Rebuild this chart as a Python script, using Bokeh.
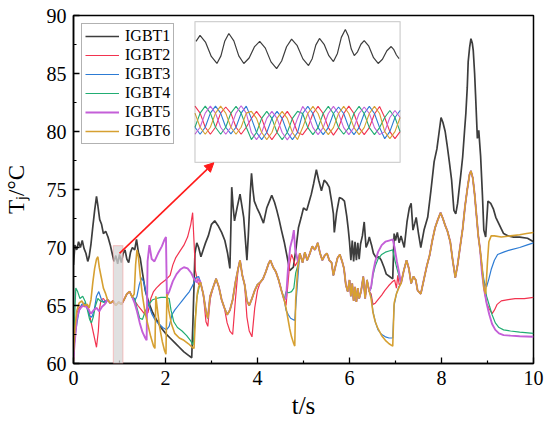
import math
from bokeh.plotting import figure
from bokeh.models import (Range1d, FixedTicker, Legend, LegendItem,
                          BoxAnnotation, Arrow, NormalHead)
from bokeh.embed import file_html
from bokeh.resources import INLINE

# ---------------- data ----------------
series_names = ["IGBT1", "IGBT2", "IGBT3", "IGBT4", "IGBT5", "IGBT6"]
x_ticks = [0, 2, 4, 6, 8, 10]
x_minor = [1, 3, 5, 7, 9]
y_ticks = [60, 65, 70, 75, 80, 85, 90]
y_minor = [62.5, 67.5, 72.5, 77.5, 82.5, 87.5]
x_title = "t/s"
y_title = "T\u2c7c/°C"

igbt1_t = [
    0.00, 0.03, 0.07, 0.11, 0.15, 0.19, 0.23, 0.27, 0.31, 0.34,
    0.38, 0.42, 0.46, 0.50, 0.53, 0.57, 0.61, 0.65, 0.70, 0.75,
    0.80, 0.84, 0.88, 0.92, 0.96, 1.00, 1.04, 1.08, 1.12, 1.16,
    1.20, 1.24, 1.28, 1.33, 1.37, 1.41, 1.45, 1.50, 1.56, 1.64,
    1.72, 1.80, 1.90, 2.00, 2.10, 2.20, 2.30, 2.40, 2.50, 2.57,
    2.60, 2.64, 2.68, 2.72, 2.77, 2.82, 2.87, 2.93, 3.00, 3.07,
    3.14, 3.22, 3.29, 3.35, 3.40, 3.42, 3.44, 3.47, 3.50, 3.56,
    3.62, 3.66, 3.70, 3.74, 3.77, 3.80, 3.84, 3.87, 3.90, 3.93,
    3.99, 4.05, 4.13, 4.20, 4.26, 4.31, 4.37, 4.42, 4.47, 4.52,
    4.58, 4.63, 4.70, 4.78, 4.84, 4.89, 4.95, 5.00, 5.07, 5.12,
    5.17, 5.22, 5.28, 5.33, 5.39, 5.45, 5.50, 5.56, 5.61, 5.65,
    5.67, 5.72, 5.78, 5.84, 5.89, 5.94, 5.97, 6.00, 6.03, 6.06,
    6.09, 6.12, 6.15, 6.18, 6.21, 6.24, 6.28, 6.32, 6.36, 6.40,
    6.43, 6.48, 6.52, 6.58, 6.64, 6.69, 6.75, 6.80, 6.87, 6.94,
    6.97, 7.00, 7.04, 7.08, 7.12, 7.19, 7.25, 7.30, 7.34, 7.38,
    7.42, 7.45, 7.50, 7.55, 7.62, 7.70, 7.77, 7.84, 7.90, 7.95,
    7.99, 8.03, 8.08, 8.12, 8.17, 8.22, 8.27, 8.31, 8.35, 8.38,
    8.42, 8.46, 8.50, 8.53, 8.56, 8.58, 8.61, 8.64, 8.67, 8.69,
    8.72, 8.74, 8.78, 8.81, 8.85, 8.89, 8.92, 8.96, 9.01, 9.07,
    9.13, 9.18, 9.24, 9.30, 9.35, 9.45, 9.57, 9.70, 9.87, 10.0]
igbt1_T = [
    68.5, 70.2, 69.8, 70.5, 70.0, 70.6, 69.9, 69.5, 68.8, 69.2,
    70.3, 71.8, 73.2, 74.4, 73.6, 72.4, 72.0, 71.2, 71.4, 70.9,
    70.2, 69.5, 68.8, 69.3, 68.6, 69.4, 68.7, 69.5, 69.8, 69.0,
    68.7, 69.6, 70.0, 69.8, 70.7, 69.6, 69.1, 67.8, 66.3, 65.2,
    64.4, 63.8, 63.1, 62.6, 62.2, 61.8, 61.4, 61.0, 60.7, 60.5,
    64.0, 69.5, 70.4, 70.0, 69.2, 69.8, 70.4, 71.0, 72.0, 72.3,
    71.9, 71.3, 70.6, 69.5, 68.2, 71.5, 75.2, 73.5, 72.3, 73.5,
    74.6, 73.6, 72.6, 70.5, 68.9, 71.0, 74.5, 76.4, 75.0, 74.0,
    73.4, 72.9, 72.1, 73.4, 74.0, 74.5, 73.9, 73.2, 72.4, 71.5,
    70.5, 69.5, 68.0, 68.3, 70.0, 71.7, 72.6, 73.4, 73.2, 73.9,
    74.6, 75.5, 76.7, 75.8, 74.9, 75.8, 75.6, 75.2, 74.0, 72.9,
    71.3, 73.0, 74.3, 74.2, 74.0, 72.7, 71.7, 70.5, 68.9, 70.6,
    68.8, 70.5, 68.9, 70.4, 69.0, 70.3, 71.0, 72.2, 70.0, 70.4,
    70.9, 70.2, 69.5, 69.1, 69.2, 68.9, 68.3, 67.7, 67.5, 67.3,
    71.2, 70.6, 71.3, 70.4, 71.0, 70.0, 72.2, 73.4, 73.8, 71.5,
    72.1, 72.6, 71.2, 70.0, 71.5, 72.6, 74.9, 77.4, 78.5, 80.0,
    81.2, 80.8, 80.0, 78.9, 77.4, 75.8, 73.2, 72.9, 73.8, 74.9,
    76.3, 77.8, 80.0, 81.6, 83.8, 86.0, 87.2, 88.0, 87.6, 87.0,
    85.0, 83.2, 79.4, 80.1, 77.9, 74.5, 71.5, 70.9, 74.0, 73.8,
    73.3, 72.6, 72.1, 71.6, 71.2, 71.0, 70.9, 70.9, 70.8, 70.5]

# stretches where IGBT2..IGBT6 run together
bundle_a_t = [0.74, 0.80, 0.86, 0.92, 0.98, 1.04, 1.10, 1.16, 1.22, 1.28]
bundle_a_T = [65.5, 65.2, 65.4, 65.0, 65.3, 65.1, 65.5, 66.0, 66.2, 65.7]

bundle_b_t = [2.76, 2.82, 2.88, 2.92, 2.97, 3.03, 3.10, 3.16, 3.22, 3.28,
              3.34, 3.40, 3.46, 3.52, 3.58, 3.62, 3.67, 3.72, 3.77, 3.82,
              3.88, 3.94, 4.00, 4.06, 4.12, 4.18, 4.24, 4.28, 4.34, 4.40,
              4.46, 4.52, 4.58]
bundle_b_T = [67.0, 66.0, 64.5, 63.9, 65.8, 66.5, 67.3, 66.6, 65.5, 64.8,
              64.2, 64.6, 65.5, 67.0, 68.2, 68.9, 67.6, 66.8, 65.4, 65.0,
              65.6, 66.3, 66.8, 67.0, 67.3, 67.9, 68.6, 68.9, 68.3, 67.9,
              67.2, 66.3, 65.5]
bundle_b_T_igbt2 = [67.0, 66.0, 63.6, 63.2, 65.5, 66.5, 67.3, 66.6, 65.5, 64.8,
                    63.5, 62.8, 62.5, 65.5, 68.2, 68.9, 67.6, 66.8, 64.0, 62.8,
                    62.3, 64.8, 66.3, 67.0, 67.3, 67.9, 68.6, 68.9, 68.3, 67.9,
                    67.2, 66.3, 65.5]

bundle_c_t = [4.92, 4.98, 5.03, 5.08, 5.13, 5.19, 5.25, 5.31, 5.36, 5.41,
              5.46, 5.51, 5.56, 5.61, 5.65, 5.69, 5.74, 5.79, 5.84, 5.88,
              5.92, 5.96, 6.00, 6.03, 6.06, 6.09, 6.12, 6.15, 6.18, 6.21,
              6.25, 6.30, 6.34, 6.38, 6.43]
bundle_c_T = [69.5, 68.7, 69.6, 68.9, 69.4, 70.1, 69.8, 70.4, 69.5, 68.9,
              69.3, 69.5, 68.9, 68.7, 67.6, 68.3, 69.1, 69.4, 68.8, 68.2,
              66.8, 66.2, 67.2, 65.8, 66.9, 65.4, 66.6, 65.3, 66.5, 65.6,
              66.2, 67.5, 65.6, 67.2, 66.2]

bundle_d_t = [7.12, 7.18, 7.24, 7.29, 7.34, 7.39, 7.44, 7.48, 7.55, 7.62,
              7.68, 7.74, 7.80, 7.86, 7.92, 7.98, 8.03, 8.08, 8.13, 8.19,
              8.24, 8.30, 8.35, 8.41, 8.46, 8.51, 8.56, 8.61, 8.64, 8.68,
              8.72, 8.76, 8.80, 8.84]
bundle_d_T = [66.9, 68.0, 68.9, 68.2, 66.9, 67.5, 67.2, 66.3, 66.0, 67.3,
              68.4, 69.3, 70.6, 71.7, 72.4, 73.0, 72.5, 71.9, 71.4, 70.5,
              69.0, 67.4, 68.5, 70.2, 71.6, 73.5, 75.0, 76.3, 76.6, 76.0,
              74.6, 72.8, 71.0, 69.8]

# IGBT2 own stretches
igbt2_s0_t = [0.00, 0.03, 0.07, 0.12, 0.18, 0.24, 0.28, 0.32, 0.38, 0.44, 0.50, 0.54, 0.57, 0.60, 0.65, 0.70]
igbt2_s0_T = [60.2, 62.5, 64.3, 64.8, 65.0, 64.9, 65.0, 64.9, 63.6, 62.5, 61.4, 62.8, 64.8, 65.5, 65.6, 65.3]
igbt2_s1_t = [1.33, 1.40, 1.48, 1.56, 1.62, 1.68, 1.74, 1.80, 1.90, 2.00, 2.10,
              2.16, 2.22, 2.30, 2.40, 2.48, 2.55, 2.59, 2.62, 2.65, 2.69, 2.72]
igbt2_s1_T = [65.4, 65.0, 64.6, 64.2, 64.4, 65.6, 66.2, 66.5, 66.9, 67.2, 67.6,
              68.5, 69.1, 69.6, 70.2, 70.9, 72.0, 73.0, 70.5, 68.0, 67.2, 66.8]
igbt2_s2_t = [4.62, 4.66, 4.70, 4.74, 4.78, 4.82, 4.87]
igbt2_s2_T = [65.0, 66.8, 68.6, 69.4, 69.0, 68.4, 68.8]
igbt2_s3_t = [6.47, 6.51, 6.56, 6.62, 6.70, 6.77, 6.85, 6.92, 6.98, 7.02, 7.05, 7.08]
igbt2_s3_T = [66.0, 65.1, 65.2, 65.5, 65.9, 66.3, 66.7, 67.0, 67.2, 66.5, 67.6, 66.8]
igbt2_s4_t = [8.88, 8.93, 8.98, 9.04, 9.10, 9.15, 9.21, 9.30, 9.45, 9.60, 9.80, 10.0]
igbt2_s4_T = [68.0, 66.3, 65.2, 64.7, 64.3, 64.6, 65.1, 65.4, 65.5, 65.6, 65.6, 65.7]

# IGBT3 own stretches
igbt3_s0_t = [0.00, 0.04, 0.08, 0.12, 0.18, 0.25, 0.30, 0.35, 0.40, 0.45, 0.50, 0.55, 0.60, 0.65, 0.70]
igbt3_s0_T = [61.0, 62.5, 63.6, 64.5, 65.1, 65.2, 64.8, 64.1, 64.0, 64.6, 65.8, 66.2, 65.6, 65.3, 65.4]
igbt3_s1_t = [1.33, 1.38, 1.43, 1.48, 1.53, 1.58, 1.64, 1.70, 1.78, 1.86, 1.94,
              2.02, 2.08, 2.14, 2.20, 2.28, 2.36, 2.44, 2.52, 2.60, 2.66, 2.72]
igbt3_s1_T = [65.4, 65.8, 66.8, 67.4, 67.0, 66.0, 65.0, 64.3, 63.7, 63.4, 63.1,
              62.9, 63.2, 64.2, 64.6, 65.0, 65.4, 65.8, 66.2, 66.8, 67.4, 67.5]
igbt3_s2_t = [4.62, 4.67, 4.72, 4.77, 4.81, 4.84, 4.88]
igbt3_s2_T = [64.6, 64.2, 63.9, 63.8, 63.7, 65.4, 67.5]
igbt3_s3_t = [6.47, 6.51, 6.56, 6.62, 6.70, 6.78, 6.86, 6.94, 6.97, 7.02, 7.07]
igbt3_s3_T = [65.8, 64.5, 63.6, 62.9, 62.5, 62.3, 62.2, 62.2, 65.0, 66.0, 66.6]
igbt3_s4_t = [8.88, 8.93, 8.98, 9.03, 9.08, 9.15, 9.22, 9.35, 9.50, 9.70, 9.85, 10.0]
igbt3_s4_T = [68.3, 67.0, 66.6, 67.3, 68.1, 68.9, 69.4, 69.6, 69.8, 70.0, 70.2, 70.4]

# IGBT4 own stretches
igbt4_s0_t = [0.00, 0.02, 0.05, 0.09, 0.14, 0.20, 0.26, 0.31, 0.35, 0.39, 0.43, 0.48, 0.53, 0.58, 0.64, 0.70]
igbt4_s0_T = [60.8, 63.5, 66.5, 66.2, 65.6, 65.8, 65.3, 64.5, 63.8, 63.5, 64.0, 65.0, 65.6, 65.4, 65.3, 65.2]
igbt4_s1_t = [1.33, 1.38, 1.44, 1.50, 1.56, 1.64, 1.72, 1.80, 1.90, 2.00, 2.08,
              2.12, 2.18, 2.26, 2.36, 2.46, 2.54, 2.60, 2.64, 2.68, 2.72]
igbt4_s1_T = [65.6, 64.8, 63.9, 63.8, 64.5, 65.1, 65.5, 65.6, 65.7, 65.7, 65.6,
              64.6, 63.6, 63.1, 62.8, 62.4, 62.0, 61.6, 63.5, 65.6, 66.4]
igbt4_s2_t = [4.62, 4.68, 4.74, 4.79, 4.83, 4.88]
igbt4_s2_T = [66.2, 66.1, 66.2, 66.5, 67.8, 68.5]
igbt4_s3_t = [6.47, 6.51, 6.56, 6.62, 6.70, 6.78, 6.86, 6.94, 6.98, 7.03, 7.08]
igbt4_s3_T = [66.5, 67.6, 68.4, 69.0, 69.4, 69.6, 69.7, 69.8, 69.0, 68.2, 67.5]
igbt4_s4_t = [8.88, 8.93, 8.98, 9.04, 9.10, 9.17, 9.25, 9.35, 9.50, 9.70, 10.0]
igbt4_s4_T = [68.0, 66.8, 65.8, 65.0, 64.2, 63.5, 63.1, 62.9, 62.8, 62.7, 62.6]

# IGBT5 own stretches
igbt5_s0_t = [0.00, 0.03, 0.07, 0.12, 0.18, 0.25, 0.32, 0.38, 0.44, 0.50, 0.56, 0.62, 0.68]
igbt5_s0_T = [60.5, 62.0, 63.8, 64.6, 64.9, 65.0, 64.7, 64.3, 64.6, 64.8, 64.5, 64.9, 65.1]
igbt5_s1_t = [1.33, 1.38, 1.44, 1.50, 1.56, 1.59, 1.61, 1.65, 1.70, 1.76, 1.84, 1.92, 1.98,
              2.01, 2.03, 2.08, 2.16, 2.24, 2.32, 2.40, 2.48, 2.56, 2.62, 2.68, 2.72]
igbt5_s1_T = [65.2, 64.5, 63.5, 62.7, 62.2, 62.0, 68.8, 70.2, 69.0, 68.8, 69.5, 70.1, 70.7,
              70.9, 65.8, 66.2, 67.1, 67.7, 68.1, 68.3, 68.2, 67.8, 67.3, 67.0, 67.3]
igbt5_s2_t = [4.62, 4.66, 4.71, 4.76, 4.79, 4.82, 4.88]
igbt5_s2_T = [65.6, 68.0, 70.0, 70.8, 71.5, 69.8, 68.8]
igbt5_s3_t = [6.47, 6.51, 6.56, 6.62, 6.70, 6.78, 6.86, 6.94, 6.98, 7.03, 7.08]
igbt5_s3_T = [66.6, 67.8, 68.8, 69.6, 70.2, 70.5, 70.6, 70.7, 70.0, 68.8, 67.8]
igbt5_s4_t = [8.88, 8.93, 8.98, 9.04, 9.10, 9.17, 9.25, 9.35, 9.50, 9.70, 10.0]
igbt5_s4_T = [67.8, 66.3, 65.2, 64.2, 63.4, 62.9, 62.6, 62.45, 62.4, 62.35, 62.3]

# IGBT6 own stretches
igbt6_s0_t = [0.00, 0.03, 0.07, 0.12, 0.18, 0.24, 0.30, 0.34, 0.38, 0.42, 0.46, 0.50, 0.53, 0.56, 0.60, 0.65, 0.70]
igbt6_s0_T = [61.0, 63.0, 64.5, 65.2, 65.4, 65.0, 65.1, 64.8, 65.5, 67.0, 68.2, 69.0, 69.2, 68.3, 67.5, 66.5, 66.0]
igbt6_s1_t = [1.32, 1.35, 1.38, 1.41, 1.45, 1.50, 1.56, 1.62, 1.68, 1.74, 1.77, 1.79, 1.82, 1.87, 1.93,
              1.98, 2.01, 2.03, 2.07, 2.13, 2.20, 2.30, 2.40, 2.50, 2.58, 2.62, 2.65, 2.69, 2.72]
igbt6_s1_T = [66.0, 68.5, 69.8, 69.2, 67.6, 65.8, 64.3, 63.3, 62.3, 61.5, 61.3, 65.8, 64.8, 63.2, 61.9,
              61.1, 60.8, 66.0, 64.6, 63.4, 62.6, 62.2, 62.0, 61.7, 61.4, 61.3, 63.8, 66.0, 66.6]
igbt6_s2_t = [4.62, 4.66, 4.70, 4.74, 4.78, 4.81, 4.83, 4.87]
igbt6_s2_T = [64.8, 63.9, 63.0, 62.3, 61.8, 61.5, 65.5, 68.0]
igbt6_s3_t = [6.47, 6.51, 6.56, 6.62, 6.70, 6.78, 6.86, 6.94, 6.97, 7.02, 7.07]
igbt6_s3_T = [65.6, 64.4, 63.6, 63.0, 62.4, 62.0, 61.7, 61.5, 65.2, 66.0, 66.5]
igbt6_s4_t = [8.88, 8.92, 8.96, 9.00, 9.03, 9.08, 9.15, 9.30, 9.50, 9.70, 9.85, 10.0]
igbt6_s4_T = [68.5, 66.5, 66.0, 68.8, 70.5, 71.0, 71.0, 70.9, 71.0, 71.1, 71.2, 71.3]

# ---- inset (zoom of t = 0.9 .. 1.1 s) ----
inset_x_lim = (0.90, 1.10)
inset_y_lim = (63.0, 71.0)
inset1_t = [0.9010, 0.9049, 0.9104, 0.9159, 0.9214, 0.9253, 0.9291, 0.9330, 0.9379, 0.9427,
            0.9476, 0.9528, 0.9579, 0.9631, 0.9686, 0.9741, 0.9796, 0.9845, 0.9893, 0.9942,
            0.9997, 1.0052, 1.0107, 1.0143, 1.0178, 1.0214, 1.0259, 1.0305, 1.0350, 1.0389,
            1.0427, 1.0466, 1.0495, 1.0524, 1.0553, 1.0585, 1.0618, 1.0650, 1.0695, 1.0741,
            1.0786, 1.0828, 1.0871, 1.0913, 1.0939, 1.0964, 1.0990]
inset1_T = [69.87, 70.21, 69.81, 69.02, 68.62, 69.05, 69.90, 70.32, 69.90, 69.05,
            68.62, 68.93, 69.56, 69.87, 69.49, 68.71, 68.33, 68.76, 69.57, 70.00,
            69.63, 68.88, 68.50, 68.89, 69.66, 70.04, 69.71, 69.06, 68.73, 69.19,
            70.10, 70.55, 70.18, 69.44, 69.07, 69.28, 69.71, 69.92, 69.60, 68.95,
            68.62, 68.86, 69.34, 69.58, 69.40, 69.10, 68.90]
inset_t = [0.900, 0.905, 0.910, 0.915, 0.920, 0.925, 0.930, 0.935, 0.940, 0.945,
           0.950, 0.955, 0.960, 0.965, 0.970, 0.975, 0.980, 0.985, 0.990, 0.995,
           1.000, 1.005, 1.010, 1.015, 1.020, 1.025, 1.030, 1.035, 1.040, 1.045,
           1.050, 1.055, 1.060, 1.065, 1.070, 1.075, 1.080, 1.085, 1.090, 1.095, 1.100]
inset2_T = [66.20, 65.80, 65.00, 64.60, 65.00, 65.80, 66.15, 65.80, 65.00, 64.60, 65.00,
            65.50, 65.90, 65.50, 64.70, 64.30, 64.70, 65.50, 65.90, 65.45, 64.70,
            64.58, 64.98, 65.78, 66.18, 65.78, 64.98, 64.55, 64.98, 65.78, 66.20, 65.78,
            64.98, 64.58, 64.98, 65.75, 66.18, 65.55, 64.75, 64.35, 64.75]
inset3_T = [65.00, 64.60, 65.00, 65.80, 66.20, 65.80, 65.00, 64.62, 65.00, 65.80, 66.20,
            65.50, 64.70, 64.30, 64.70, 65.50, 65.90, 65.50, 64.70, 64.30, 64.70,
            65.78, 66.18, 65.78, 64.98, 64.58, 64.98, 65.78, 66.15, 65.78, 64.98, 64.58,
            64.98, 65.78, 66.18, 65.78, 64.98, 64.35, 64.75, 65.55, 65.95]
inset4_T = [65.00, 65.80, 66.20, 65.80, 65.00, 64.60, 65.00, 65.80, 66.18, 65.80, 65.00,
            64.30, 64.70, 65.50, 65.90, 65.50, 64.70, 64.30, 64.70, 65.50, 65.90,
            65.78, 64.98, 64.58, 64.98, 65.78, 66.18, 65.78, 64.98, 64.60, 64.98, 65.78,
            66.18, 65.78, 64.98, 64.58, 64.98, 65.55, 65.95, 65.55, 64.75]
inset5_T = [64.60, 65.00, 65.80, 66.20, 65.80, 65.00, 64.60, 65.00, 65.80, 66.22, 65.80,
            64.70, 64.30, 64.70, 65.50, 65.90, 65.50, 64.70, 64.28, 64.70, 65.50,
            66.18, 65.78, 64.98, 64.58, 64.98, 65.78, 66.18, 65.78, 64.98, 64.58, 64.98,
            65.78, 66.15, 65.78, 64.98, 64.58, 64.75, 65.55, 65.95, 65.55]
inset6_T = [65.80, 65.00, 64.60, 65.00, 65.80, 66.20, 65.80, 65.00, 64.60, 65.00, 65.80,
            65.90, 65.50, 64.70, 64.30, 64.70, 65.50, 65.90, 65.50, 64.70, 64.30,
            64.98, 65.78, 66.18, 65.78, 64.98, 64.58, 64.98, 65.78, 66.18, 65.78, 64.98,
            64.58, 64.98, 65.78, 66.18, 65.78, 64.75, 64.35, 64.75, 65.55]

colors = ["#3d3d3d", "#f2334f", "#2c7bd4", "#21ad73", "#c45fd8", "#d6a031"]
widths = [1.7, 1.2, 1.2, 1.2, 1.9, 1.6]


def join(*segs):
    t, T = [], []
    for st, sT in segs:
        t += list(st)
        T += list(sT)
    return t, T


A = (bundle_a_t, bundle_a_T)
B = (bundle_b_t, bundle_b_T)
C = (bundle_c_t, bundle_c_T)
D = (bundle_d_t, bundle_d_T)
series = [
    (igbt1_t, igbt1_T),
    join((igbt2_s0_t, igbt2_s0_T), A, (igbt2_s1_t, igbt2_s1_T), (bundle_b_t, bundle_b_T_igbt2),
         (igbt2_s2_t, igbt2_s2_T), C, (igbt2_s3_t, igbt2_s3_T), D, (igbt2_s4_t, igbt2_s4_T)),
    join((igbt3_s0_t, igbt3_s0_T), A, (igbt3_s1_t, igbt3_s1_T), B,
         (igbt3_s2_t, igbt3_s2_T), C, (igbt3_s3_t, igbt3_s3_T), D, (igbt3_s4_t, igbt3_s4_T)),
    join((igbt4_s0_t, igbt4_s0_T), A, (igbt4_s1_t, igbt4_s1_T), B,
         (igbt4_s2_t, igbt4_s2_T), C, (igbt4_s3_t, igbt4_s3_T), D, (igbt4_s4_t, igbt4_s4_T)),
    join((igbt5_s0_t, igbt5_s0_T), A, (igbt5_s1_t, igbt5_s1_T), B,
         (igbt5_s2_t, igbt5_s2_T), C, (igbt5_s3_t, igbt5_s3_T), D, (igbt5_s4_t, igbt5_s4_T)),
    join((igbt6_s0_t, igbt6_s0_T), A, (igbt6_s1_t, igbt6_s1_T), B,
         (igbt6_s2_t, igbt6_s2_T), C, (igbt6_s3_t, igbt6_s3_T), D, (igbt6_s4_t, igbt6_s4_T)),
]
inset_series = [(inset1_t, inset1_T), (inset_t, inset2_T), (inset_t, inset3_T),
                (inset_t, inset4_T), (inset_t, inset5_T), (inset_t, inset6_T)]

# ---------------- figure ----------------
X0, X1, Y0, Y1 = 0, 10, 60, 90
p = figure(width=550, height=428, x_range=Range1d(X0, X1), y_range=Range1d(Y0, Y1),
           output_backend="svg", toolbar_location=None,
           min_border_left=71, min_border_right=17, min_border_top=15, min_border_bottom=65)
p.background_fill_color = "white"
p.border_fill_color = "white"
p.xgrid.visible = False
p.ygrid.visible = False
p.outline_line_color = "black"
p.outline_line_width = 1.5

FONT = "Liberation Serif"
for ax in (p.xaxis[0], p.yaxis[0]):
    ax.axis_line_width = 1.5
    ax.axis_line_color = "black"
    ax.major_tick_in = 6
    ax.major_tick_out = 0
    ax.minor_tick_in = 3
    ax.minor_tick_out = 0
    ax.major_tick_line_width = 1.3
    ax.minor_tick_line_width = 1.2
    ax.major_tick_line_color = "black"
    ax.minor_tick_line_color = "black"
    ax.major_label_text_font = FONT
    ax.major_label_text_color = "black"
    ax.axis_label_text_font = FONT
    ax.axis_label_text_font_style = "normal"
    ax.axis_label_text_color = "black"
p.xaxis.major_label_text_font_size = "20px"
p.yaxis.major_label_text_font_size = "20px"
p.xaxis.axis_label_text_font_size = "25px"
p.yaxis.axis_label_text_font_size = "23px"
p.xaxis.ticker = FixedTicker(ticks=x_ticks, minor_ticks=x_minor)
p.yaxis.ticker = FixedTicker(ticks=y_ticks, minor_ticks=y_minor)
p.xaxis.major_label_standoff = 7
p.yaxis.major_label_standoff = 7
p.xaxis.axis_label = x_title
p.yaxis.axis_label = y_title
p.xaxis.axis_label_standoff = 4
p.yaxis.axis_label_standoff = 15

# inset placement (in main data units) -> extra ranges
INSET_MAIN_X = (2.641, 7.100)
INSET_MAIN_Y = (77.33, 89.48)
sx = (INSET_MAIN_X[1] - INSET_MAIN_X[0]) / (inset_x_lim[1] - inset_x_lim[0])
sy = (INSET_MAIN_Y[1] - INSET_MAIN_Y[0]) / (inset_y_lim[1] - inset_y_lim[0])
p.extra_x_ranges = {"inset": Range1d(inset_x_lim[0] - (INSET_MAIN_X[0] - X0) / sx,
                                     inset_x_lim[0] + (X1 - INSET_MAIN_X[0]) / sx)}
p.extra_y_ranges = {"inset": Range1d(inset_y_lim[0] - (INSET_MAIN_Y[0] - Y0) / sy,
                                     inset_y_lim[0] + (Y1 - INSET_MAIN_Y[0]) / sy)}

renderers = []
for (t, T), c, w in zip(series, colors, widths):
    renderers.append(p.line(t, T, line_color=c, line_width=w))

for (t, T), c in zip(inset_series, colors):
    p.line(t, T, line_color=c, line_width=1.1 if c != colors[0] else 1.2,
           x_range_name="inset", y_range_name="inset")

p.add_layout(BoxAnnotation(left=INSET_MAIN_X[0], right=INSET_MAIN_X[1],
                           bottom=INSET_MAIN_Y[0], top=INSET_MAIN_Y[1],
                           fill_alpha=0, line_color="#666666", line_width=1.3))

# zoom box and arrow
p.add_layout(BoxAnnotation(left=0.866, right=1.076, bottom=60.0, top=70.17,
                           fill_color="#d6d6d6", fill_alpha=0.75,
                           line_color="#ff6b6b", line_width=1.2))
p.add_layout(Arrow(end=NormalHead(size=9, fill_color="#ff1a1a", line_color="#ff1a1a"),
                   x_start=1.0, y_start=69.5, x_end=3.05, y_end=77.3,
                   line_color="#ff1a1a", line_width=1.6))

legend = Legend(items=[LegendItem(label=n, renderers=[r]) for n, r in zip(series_names, renderers)],
                location="top_left", margin=8, padding=3, spacing=1,
                label_height=18, glyph_height=18, glyph_width=34, label_standoff=6,
                label_text_font=FONT, label_text_font_size="16px", label_text_color="black",
                border_line_color="#666666", border_line_width=1.2,
                background_fill_color="white", background_fill_alpha=1.0)
p.add_layout(legend)

open("out.html", "w").write(file_html(p, INLINE))
